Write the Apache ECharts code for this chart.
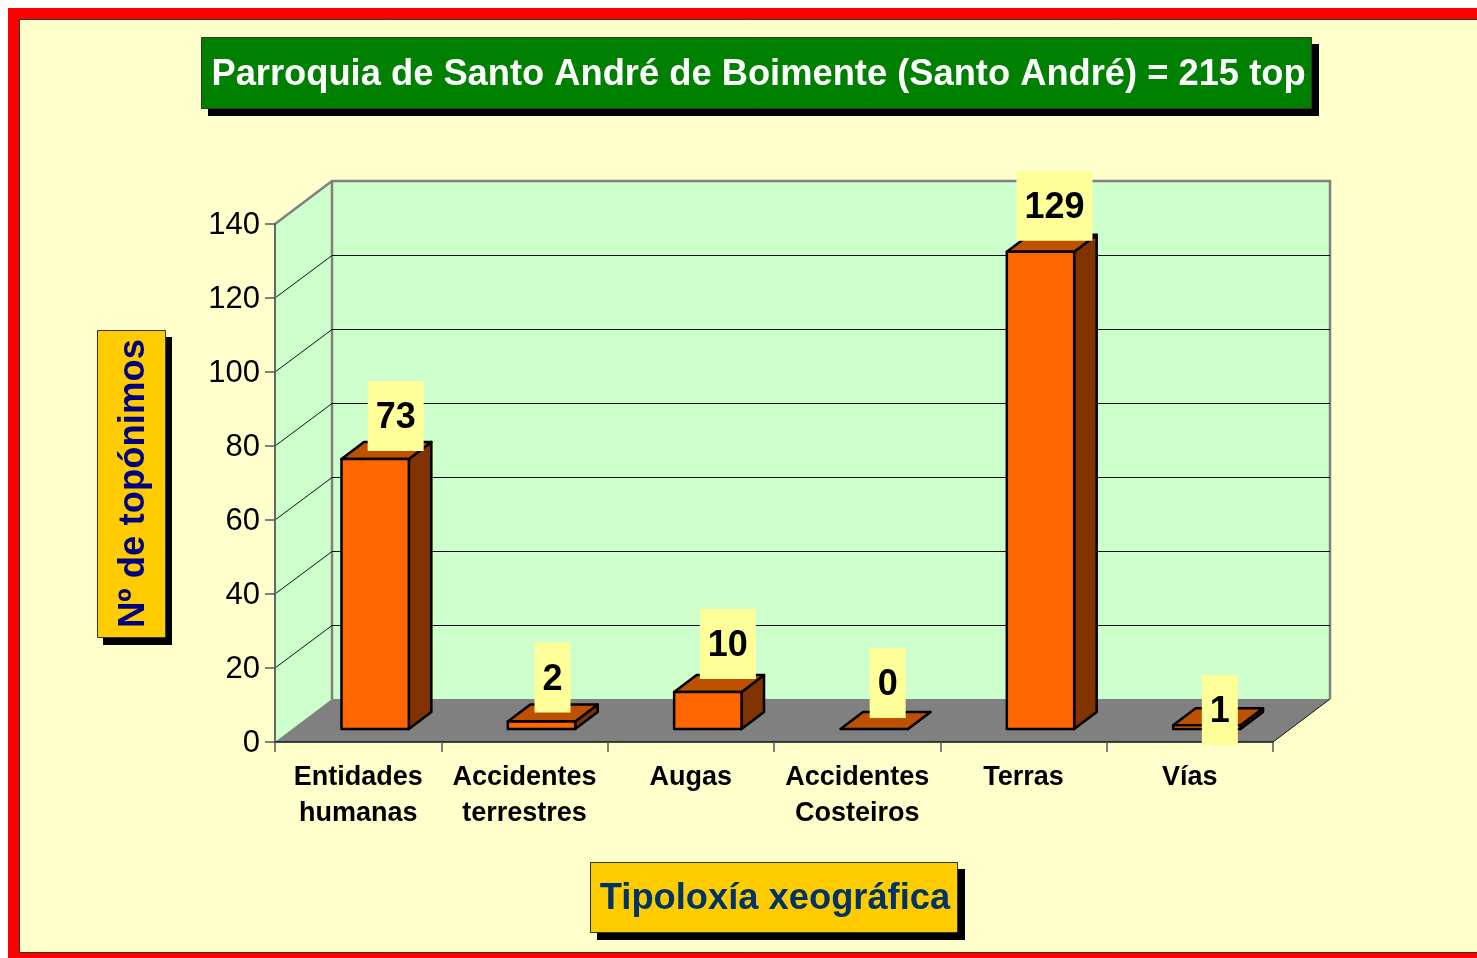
<!DOCTYPE html>
<html>
<head>
<meta charset="utf-8">
<title>Parroquia de Santo André de Boimente</title>
<style>
  html, body { margin: 0; padding: 0; background: #fff; }
  #chart { width: 1477px; height: 958px; }
</style>
<script src="https://cdn.jsdelivr.net/npm/echarts@6/dist/echarts.min.js"></script>
</head>
<body>
<div id="chart"></div>
<script>
const chartTitle = "Parroquia de Santo André de Boimente (Santo André) = 215 top";
const yAxisTitle = "Nº de topónimos";
const xAxisTitle = "Tipoloxía xeográfica";
const categories = [
  "Entidades\nhumanas",
  "Accidentes\nterrestres",
  "Augas",
  "Accidentes\nCosteiros",
  "Terras",
  "Vías",
];
const values = [73, 2, 10, 0, 129, 1];
const gridTicks = [20, 40, 60, 80, 100, 120];

const FONT = '"Liberation Sans", Arial, sans-serif';
// fake 3D offsets
const WALL_DX = 57, WALL_DY = -43;
const BAR_DX = 17, BAR_DY = -13;
const SIDE_DX = 22.5, SIDE_DY = -17;
// label boxes sit a bit unevenly in the original
const labelNudgeX = [20.5, 11, 20, 13.5, 14, 13];
const labelNudgeY = [-8, -9, -13, -11, -11, 20];

const poly = (points, fill, stroke, lineWidth) => ({
  type: "polygon",
  shape: { points },
  style: { fill, stroke: stroke || null, lineWidth: lineWidth || 0, lineJoin: "round" },
});

const renderWalls = (params, api) => {
  const bl = api.coord([0, 0]);
  const tl = api.coord([0, 140]);
  const band = api.size([1, 0])[0];
  const x0 = bl[0] - band / 2;
  const x1 = x0 + band * categories.length;
  const y0 = bl[1];
  const y1 = tl[1];
  return {
    type: "group",
    children: [
      poly([[x0, y0], [x0, y1], [x0 + WALL_DX, y1 + WALL_DY], [x0 + WALL_DX, y0 + WALL_DY]], "#CCFFCC"),
      poly([[x0 + WALL_DX, y0 + WALL_DY], [x0 + WALL_DX, y1 + WALL_DY], [x1 + WALL_DX, y1 + WALL_DY], [x1 + WALL_DX, y0 + WALL_DY]], "#CCFFCC"),
      poly([[x0, y0], [x0 + WALL_DX, y0 + WALL_DY], [x1 + WALL_DX, y0 + WALL_DY], [x1, y0]], "#808080"),
      {
        type: "polyline",
        shape: { points: [[x0, y1], [x0 + WALL_DX, y1 + WALL_DY], [x1 + WALL_DX, y1 + WALL_DY], [x1 + WALL_DX, y0 + WALL_DY]] },
        style: { fill: null, stroke: "#808080", lineWidth: 2.5 },
      },
      {
        type: "line",
        shape: { x1: x0 + WALL_DX, y1: y1 + WALL_DY, x2: x0 + WALL_DX, y2: y0 + WALL_DY },
        style: { stroke: "#808080", lineWidth: 2.5 },
      },
      {
        type: "line",
        shape: { x1: x1, y1: y0, x2: x1 + WALL_DX, y2: y0 + WALL_DY },
        style: { stroke: "#111", lineWidth: 1 },
      },
    ],
  };
};

const renderGrid = (params, api) => {
  const p = api.coord([0, api.value(0)]);
  const band = api.size([1, 0])[0];
  const x0 = p[0] - band / 2;
  const x1 = x0 + band * categories.length;
  // snap to the pixel so the wall line stays crisp
  const yBack = Math.round(p[1] + WALL_DY) + 0.5;
  return {
    type: "polyline",
    shape: { points: [[x0, p[1]], [x0 + WALL_DX, yBack], [x1 + WALL_DX, yBack]] },
    style: { fill: null, stroke: "#111", lineWidth: 1 },
  };
};

const renderBar = (params, api) => {
  const idx = api.value(0);
  const top = api.coord([idx, api.value(1)]);
  const base = api.coord([idx, 0]);
  const w = api.size([1, 0])[0] * 0.405;
  const x0 = top[0] + BAR_DX - w / 2;
  const x1 = x0 + w;
  const yt = top[1] + BAR_DY;
  const yb = base[1] + BAR_DY;
  const kids = [];
  kids.push(poly([[x1, yt], [x1 + SIDE_DX, yt + SIDE_DY], [x1 + SIDE_DX, yb + SIDE_DY], [x1, yb]], "#803300", "#000", 2.5));
  kids.push(poly([[x0, yt], [x1, yt], [x1 + SIDE_DX, yt + SIDE_DY], [x0 + SIDE_DX, yt + SIDE_DY]], "#BF5000", "#000", 2.5));
  if (yb > yt) kids.push(poly([[x0, yt], [x1, yt], [x1, yb], [x0, yb]], "#FF6600", "#000", 2.5));
  return { type: "group", children: kids };
};

const renderLabel = (params, api) => {
  const idx = api.value(0);
  const v = api.value(1);
  const top = api.coord([idx, v]);
  const text = String(v);
  const boxW = 20 * text.length + 16;
  const boxH = 70;
  const cx = top[0] + BAR_DX + labelNudgeX[idx];
  const bottom = top[1] + BAR_DY + labelNudgeY[idx];
  return {
    type: "group",
    children: [
      {
        type: "rect",
        shape: { x: cx - boxW / 2, y: bottom - boxH, width: boxW, height: boxH },
        style: { fill: "#FFFF99" },
      },
      {
        type: "text",
        x: cx,
        y: bottom - boxH / 2 + 2,
        style: {
          text,
          fill: "#000",
          font: "bold 36px " + FONT,
          align: "center",
          verticalAlign: "middle",
        },
      },
    ],
  };
};

// rect + shadow + text, used for the three caption boxes
const captionBox = (x, y, w, h, fill, textFill, text, fontSize, vertical, sx, sy, tx, ty) => ({
  type: "group",
  z: 10,
  children: [
    { type: "rect", z: 10, shape: { x: x + sx, y: y + sy, width: w, height: h }, style: { fill: "#000" } },
    { type: "rect", z: 11, shape: { x: x + 0.5, y: y + 0.5, width: w - 1, height: h - 1 }, style: { fill, stroke: "#333", lineWidth: 1 } },
    {
      type: "text",
      z: 12,
      x: x + w / 2 + tx,
      y: y + h / 2 + ty,
      rotation: vertical ? Math.PI / 2 : 0,
      style: {
        text,
        fill: textFill,
        font: "bold " + fontSize + "px " + FONT,
        align: "center",
        verticalAlign: "middle",
      },
    },
  ],
});

const chartInstance = echarts.init(document.getElementById("chart"));

chartInstance.setOption({
  animation: false,
  backgroundColor: "#fff",
  grid: { left: 275, top: 224, width: 998, height: 518, containLabel: false },
  xAxis: {
    type: "category",
    data: categories,
    z: 3,
    axisLine: { lineStyle: { color: "#111", width: 1.5 } },
    axisTick: { show: true, alignWithLabel: false, length: 10, lineStyle: { color: "#555", width: 1.5 } },
    axisLabel: {
      interval: 0,
      margin: 18,
      color: "#000",
      fontFamily: "Liberation Sans",
      fontWeight: "bold",
      fontSize: 27,
      lineHeight: 36,
    },
    splitLine: { show: false },
  },
  yAxis: {
    type: "value",
    min: 0,
    max: 140,
    interval: 20,
    z: 3,
    axisLine: { show: true, lineStyle: { color: "#666", width: 2 } },
    axisTick: { show: true, length: 10, lineStyle: { color: "#555", width: 1.5 } },
    axisLabel: {
      margin: 15,
      // tiny line height + top align nudges the numbers 1px below the tick
      verticalAlign: "top",
      lineHeight: 3,
      color: "#000",
      fontFamily: "Liberation Sans",
      fontSize: 31,
    },
    splitLine: { show: false },
  },
  graphic: [
    { type: "rect", z: -20, shape: { x: 8, y: 8, width: 1469, height: 950 }, style: { fill: "#FF0000" } },
    { type: "rect", z: -19, shape: { x: 19.5, y: 19.5, width: 1460, height: 933 }, style: { fill: "#FFFFCC", stroke: "#333", lineWidth: 1 } },
    captionBox(201, 37, 1111, 72, "#008000", "#fff", chartTitle, 36.3, false, 7, 7, 2, 2),
    captionBox(97, 330, 69, 308, "#FFCC00", "#000080", yAxisTitle, 36.5, true, 6, 7, 2.5, -0.5),
    captionBox(590, 862, 368, 71, "#FFCC00", "#003366", xAxisTitle, 36.3, false, 7, 7, 1, 1),
  ],
  series: [
    {
      type: "custom",
      z: 1,
      silent: true,
      clip: false,
      data: [[0]],
      encode: { y: 0 },
      renderItem: renderWalls,
    },
    {
      type: "custom",
      z: 2,
      silent: true,
      clip: false,
      data: gridTicks.map((t) => [t]),
      encode: { y: 0 },
      renderItem: renderGrid,
    },
    {
      type: "custom",
      z: 4,
      clip: false,
      data: values.map((v, i) => [i, v]),
      encode: { x: 0, y: 1 },
      renderItem: renderBar,
    },
    {
      type: "custom",
      z: 5,
      clip: false,
      data: values.map((v, i) => [i, v]),
      encode: { x: 0, y: 1 },
      renderItem: renderLabel,
    },
  ],
});

window.addEventListener("resize", () => chartInstance.resize());
</script>
</body>
</html>
